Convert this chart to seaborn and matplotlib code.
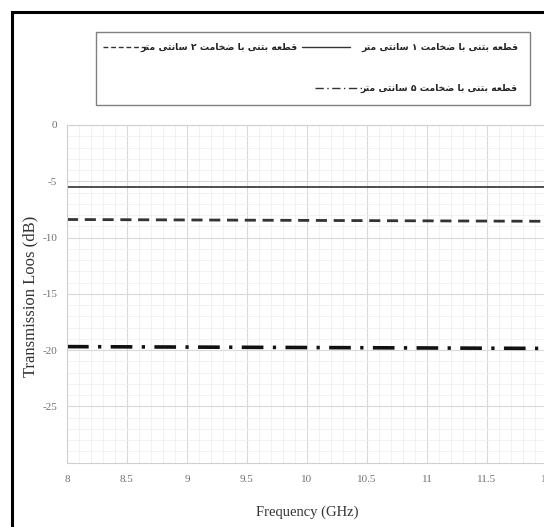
import numpy as np
import pandas as pd
import matplotlib
matplotlib.use("Agg")
import matplotlib.pyplot as plt
from matplotlib.lines import Line2D
from matplotlib.patches import Rectangle
from matplotlib.ticker import MultipleLocator
import seaborn as sns

# ---- data -------------------------------------------------------------
freq_ghz = [8.0, 8.5, 9.0, 9.5, 10.0, 10.5, 11.0, 11.5, 12.0]
loss_1cm = [-5.5, -5.5, -5.5, -5.5, -5.5, -5.5, -5.5, -5.5, -5.5]
loss_2cm = [-8.40, -8.42, -8.44, -8.46, -8.48, -8.50, -8.52, -8.54, -8.56]
loss_5cm = [-19.70, -19.72, -19.74, -19.76, -19.78, -19.80, -19.82, -19.84, -19.86]

labels = [
    "قطعه بتنی با ضخامت ۱ سانتی متر",
    "قطعه بتنی با ضخامت ۲ سانتی متر",
    "قطعه بتنی با ضخامت ۵ سانتی متر",
]
x_ticks = [8, 8.5, 9, 9.5, 10, 10.5, 11, 11.5, 12]
x_tick_labels = ["8", "8.5", "9", "9.5", "10", "10.5", "11", "11.5", "12"]
y_ticks = [0, -5, -10, -15, -20, -25]
y_tick_labels = ["0", "-5", "-10", "-15", "-20", "-25"]

# ---- minimal Persian shaping (presentation forms + RTL order) --------
# letter: (isolated, final, initial, medial)
FORMS = {
    "ا": (0xFE8D, 0xFE8E, None, None),
    "ب": (0xFE8F, 0xFE90, 0xFE91, 0xFE92),
    "ت": (0xFE95, 0xFE96, 0xFE97, 0xFE98),
    "خ": (0xFEA5, 0xFEA6, 0xFEA7, 0xFEA8),
    "ر": (0xFEAD, 0xFEAE, None, None),
    "س": (0xFEB1, 0xFEB2, 0xFEB3, 0xFEB4),
    "ض": (0xFEBD, 0xFEBE, 0xFEBF, 0xFEC0),
    "ط": (0xFEC1, 0xFEC2, 0xFEC3, 0xFEC4),
    "ع": (0xFEC9, 0xFECA, 0xFECB, 0xFECC),
    "ق": (0xFED5, 0xFED6, 0xFED7, 0xFED8),
    "م": (0xFEE1, 0xFEE2, 0xFEE3, 0xFEE4),
    "ن": (0xFEE5, 0xFEE6, 0xFEE7, 0xFEE8),
    "ه": (0xFEE9, 0xFEEA, 0xFEEB, 0xFEEC),
    "ی": (0xFEEF, 0xFEF0, 0xFEF3, 0xFEF4),
}


def shape_fa(text):
    out = []
    chars = list(text)
    for i, ch in enumerate(chars):
        if ch not in FORMS:
            out.append(ch)
            continue
        prev = chars[i - 1] if i > 0 else None
        nxt = chars[i + 1] if i + 1 < len(chars) else None
        joins_prev = prev in FORMS and FORMS[prev][2] is not None
        joins_next = nxt in FORMS and FORMS[ch][2] is not None
        iso, fin, ini, med = FORMS[ch]
        if joins_prev and joins_next:
            cp = med
        elif joins_prev:
            cp = fin
        elif joins_next:
            cp = ini
        else:
            cp = iso
        out.append(chr(cp))
    return "".join(reversed(out))


# ---- style ------------------------------------------------------------
sns.set_style("white")
plt.rcParams["font.family"] = ["DejaVu Sans"]
plt.rcParams["axes.unicode_minus"] = False

W, H = 544, 527
fig = plt.figure(figsize=(W / 100, H / 100), dpi=100)


def fx(px):
    return px / W


def fy(py):
    return 1 - py / H


ax = fig.add_axes([fx(67), fy(462.5), fx(480), (462.5 - 125) / H])

series = [
    (loss_1cm, "#404040", 1.3, "-"),
    (loss_2cm, "#333333", 2.0, (0, (4.0, 2.4))),
    (loss_5cm, "#111111", 2.6, (0, (6.0, 2.6, 0.9, 2.6))),
]
for vals, col, lw, ls in series:
    sns.lineplot(x=freq_ghz, y=vals, ax=ax, color=col, linewidth=lw,
                 linestyle=ls, legend=False)

ax.set_xlim(8, 12)
ax.set_ylim(-30, 0)
ax.set_xticks(x_ticks)
ax.set_xticklabels(x_tick_labels)
ax.set_yticks(y_ticks)
ax.set_yticklabels(y_tick_labels)
ax.xaxis.set_minor_locator(MultipleLocator(0.1))
ax.yaxis.set_minor_locator(MultipleLocator(1))
ax.grid(which="major", color="#dadada", linewidth=0.8)
ax.grid(which="minor", color="#f0f0f0", linewidth=0.6)
ax.set_axisbelow(True)
ax.tick_params(which="both", length=0)
ax.tick_params(axis="x", pad=9, labelsize=8, labelcolor="#707070")
ax.tick_params(axis="y", pad=7, labelsize=8, labelcolor="#707070")
for lab in ax.get_xticklabels() + ax.get_yticklabels():
    lab.set_family("Liberation Serif")
for side in ["left", "bottom", "top", "right"]:
    ax.spines[side].set_color("#d0d0d0")
    ax.spines[side].set_linewidth(0.8)

ax.set_xlabel("")
ax.set_ylabel("")
fig.text(fx(307), fy(512), "Frequency (GHz)", ha="center", va="center",
         family="Liberation Serif", fontsize=10.5, color="#333333")
fig.text(fx(30), fy(296), "Transmission Loos (dB)", ha="center", va="center",
         rotation=90, family="Liberation Serif", fontsize=12, color="#333333")

# ---- outer frame ------------------------------------------------------
fig.patches.append(Rectangle((fx(12), -0.05), 1.2, fy(12) + 0.05,
                             transform=fig.transFigure, fill=False,
                             edgecolor="black", linewidth=2.2))

# ---- legend box -------------------------------------------------------
fig.patches.append(Rectangle((fx(96), fy(105)), fx(530 - 96), (105 - 32) / H,
                             transform=fig.transFigure, fill=False,
                             edgecolor="#808080", linewidth=1.0))

entries = [
    # (label index, handle x0, handle x1, text right edge, row y, style)
    (0, 302, 350, 518, 47, "#333333", 1.0, "-"),
    (1, 103, 148, 297, 47, "#333333", 1.0, (0, (3.5, 2.0))),
    (2, 315, 362, 517, 88, "#333333", 1.0, (0, (6.0, 2.5, 1.0, 2.5))),
]
for idx, hx0, hx1, tx, ty, col, lw, ls in entries:
    fig.lines.append(Line2D([fx(hx0), fx(hx1)], [fy(ty), fy(ty)],
                            transform=fig.transFigure, color=col,
                            linewidth=lw, linestyle=ls))
    fig.text(fx(tx), fy(ty), shape_fa(labels[idx]), ha="right", va="center",
             fontsize=6.7, fontweight="bold", color="#222222",
             family=["DejaVu Sans"])

fig.savefig("out.png", dpi=100)
